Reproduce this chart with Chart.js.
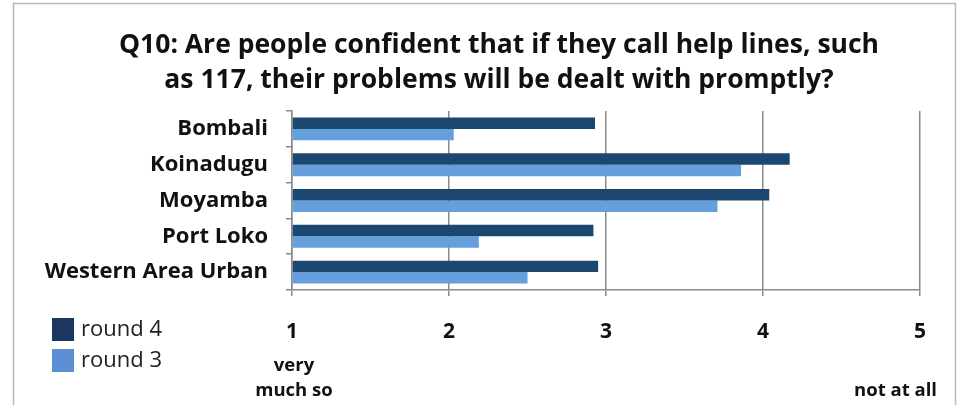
<!DOCTYPE html>
<html>
<head>
<meta charset="utf-8">
<script src="https://cdn.jsdelivr.net/npm/chart.js@4"></script>
<style>
html,body{margin:0;padding:0;background:#fff;}
#wrap{width:963px;height:405px;position:relative;}
</style>
</head>
<body>
<div id="wrap"><canvas id="c" width="963" height="405"></canvas></div>
<script>
const categories = ["Bombali", "Koinadugu", "Moyamba", "Port Loko", "Western Area Urban"];
const round4 = [2.93, 4.17, 4.04, 2.92, 2.95];
const round3 = [2.03, 3.86, 3.71, 2.19, 2.50];
const tickValues = [1, 2, 3, 4, 5];
const titleLines = ["Q10: Are people confident that if they call help lines, such", "as 117, their problems will be dealt with promptly?"];
const lowLabel = ["very", "much so"];
const highLabel = "not at all";

const C4 = "#1B4770", C3 = "#659FDC";
const L4 = "#1B3660", L3 = "#5B8FD4";
const FONT = "'Open Sans', Lato, sans-serif";

const extras = {
  id: "extras",
  beforeDraw(chart) {
    const ctx = chart.ctx;
    ctx.save();
    ctx.strokeStyle = "#b8b8b8";
    ctx.lineWidth = 1.5;
    ctx.strokeRect(13.5, 3.5, 942, 430);
    ctx.restore();
  },
  afterDraw(chart) {
    const ctx = chart.ctx;
    const xs = chart.scales.x;
    ctx.save();
    // title
    ctx.fillStyle = "#111";
    ctx.font = "bold 26.5px " + FONT;
    ctx.textAlign = "center";
    ctx.textBaseline = "middle";
    ctx.fillText(titleLines[0], 499, 45);
    ctx.fillText(titleLines[1], 499, 80);
    // end labels
    ctx.font = "bold 18.5px " + FONT;
    const x1 = xs.getPixelForValue(tickValues[0]);
    ctx.fillText(lowLabel[0], x1 + 2, 366);
    ctx.fillText(lowLabel[1], x1 + 2, 391);
    const x5 = xs.getPixelForValue(tickValues[tickValues.length - 1]);
    ctx.textAlign = "right";
    ctx.fillText(highLabel, x5 + 17, 391);
    // legend
    const ds = chart.data.datasets;
    const legendColors = [L4, L3];
    ctx.textAlign = "left";
    ctx.font = "22px " + FONT;
    ds.forEach((d, i) => {
      const y = 329.5 + i * 31;
      ctx.fillStyle = legendColors[i];
      ctx.fillRect(52, y - 11.5, 22, 23);
      ctx.fillStyle = "#222";
      ctx.fillText(d.label, 81, y);
    });
    ctx.restore();
  }
};

new Chart(document.getElementById("c"), {
  type: "bar",
  data: {
    labels: categories,
    datasets: [
      { label: "round 4", data: round4, backgroundColor: C4, borderColor: C4, borderWidth: 0, categoryPercentage: 0.64, barPercentage: 1 },
      { label: "round 3", data: round3, backgroundColor: C3, borderColor: C3, borderWidth: 0, categoryPercentage: 0.64, barPercentage: 1 }
    ]
  },
  options: {
    indexAxis: "y",
    responsive: false,
    animation: false,
    base: 1,
    layout: { padding: { left: 0, right: 43, top: 111, bottom: 0 } },
    plugins: {
      legend: { display: false },
      tooltip: { enabled: false },
      title: { display: false }
    },
    scales: {
      x: {
        min: 1, max: 5,
        afterFit(s) { s.height = 115; },
        afterBuildTicks(s) { s.ticks = tickValues.map(v => ({ value: v })); },
        ticks: { color: "#111", font: { family: FONT, size: 21, weight: "bold" }, padding: 23, maxRotation: 0 },
        grid: { color: "#8a8a8a", lineWidth: 1.5, tickLength: 6, drawTicks: true },
        border: { color: "#8a8a8a", width: 1.5 }
      },
      y: {
        afterFit(s) { s.width = 292; },
        ticks: { color: "#111", font: { family: FONT, size: 22, weight: "bold" }, padding: 18 },
        grid: { drawOnChartArea: false, color: "#8a8a8a", lineWidth: 1.5, tickLength: 6, offset: true },
        border: { color: "#8a8a8a", width: 1.5 }
      }
    }
  },
  plugins: [extras]
});
</script>
</body>
</html>
